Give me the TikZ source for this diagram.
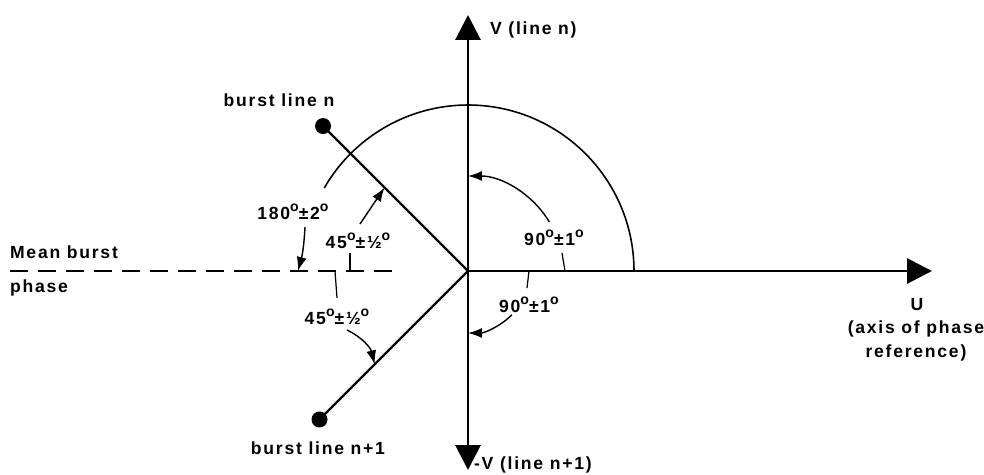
\documentclass[tikz,border=0pt]{standalone}
\usepackage{fontspec}
\setmainfont{Liberation Sans}[LetterSpace=10]
\usetikzlibrary{arrows.meta}

\newcommand{\dg}{\raisebox{0.8ex}{\fontsize{8}{8}\selectfont o}}

\begin{document}
\begin{tikzpicture}[x=0.02cm, y=0.02cm, font=\bfseries\fontsize{10}{14}\selectfont,
  every node/.style={align=center, inner sep=1pt},
  axis/.style={line width=1.7pt, -{Triangle[length=5mm, width=5mm]}},
  burst/.style={line width=1.3pt},
  leader/.style={line width=0.7pt},
  pointer/.style={line width=0.8pt, -{Latex[length=2.8mm, width=2mm]}}]
  \useasboundingbox (-468,-203) rectangle (516,271);

  % axes
  \coordinate (o) at (0,0);
  \coordinate (vtop) at (0,256);
  \coordinate (vbot) at (0,-199);
  \coordinate (utip) at (464,0);
  \draw[axis] (o) -- (vtop);
  \draw[axis] (o) -- (vbot);
  \draw[axis] (o) -- (utip);

  \node[anchor=west] (vlab) at (20,241) {V (line n)};
  \node[anchor=west] (vmlab) at (4,-194) {-V (line n+1)};
  \node (ulab) at (449,-34) {U};
  \node (axislab) at (448,-70) {(axis of phase\\reference)};

  % mean burst phase
  \coordinate (mstart) at (-458,0);
  \coordinate (mend) at (-73,0);
  \draw[line width=1.3pt, dash pattern=on 0.36cm off 0.2cm] (mstart) -- (mend);
  \node[anchor=west] (meanlab) at (-460,19) {Mean burst};
  \node[anchor=west] (phaselab) at (-460,-17) {phase};

  % burst lines
  \coordinate (bn) at (135:205);
  \coordinate (bnn) at (225:210);
  \draw[burst] (o) -- (bn);
  \draw[burst] (o) -- (bnn);
  \fill (bn) circle (8);
  \fill (bnn) circle (8);
  \node (bnlab) at (-189,171) {burst line n};
  \node (bnnlab) at (-150,-177) {burst line n+1};

  % big arc
  \draw[line width=0.9pt] (166,0) arc[start angle=0, end angle=150, radius=166];

  % 180 deg
  \node (l180) at (-175,59) {180\dg±2\dg};
  \coordinate (p180) at (-170,0);
  \draw[pointer] (-163,44) to[bend left=6] (p180);

  % upper 45 deg
  \node (l45a) at (-110,30) {45\dg±½\dg};
  \coordinate (p45a) at (135:118);
  \draw[pointer] (-108,47) -- (p45a);
  \draw[leader] (-118,18) -- (-118,0);

  % lower 45 deg
  \node (l45b) at (-131,-46) {45\dg±½\dg};
  \coordinate (p45b) at (225:132);
  \draw[leader] (-133,0) -- (-131,-27);
  \draw[pointer] (-121,-59) to[bend left=25] (p45b);

  % upper 90 deg
  \node (l90a) at (86,33) {90\dg±1\dg};
  \draw[pointer] (31:95) arc[start angle=31, end angle=90, radius=95];
  \draw[leader] (94,18) -- (97,0);

  % lower 90 deg
  \node (l90b) at (61,-34) {90\dg±1\dg};
  \draw[leader] (61,0) -- (59,-17);
  \draw[pointer] (-45:62) arc[start angle=-45, end angle=-90, radius=62];
\end{tikzpicture}
\end{document}
